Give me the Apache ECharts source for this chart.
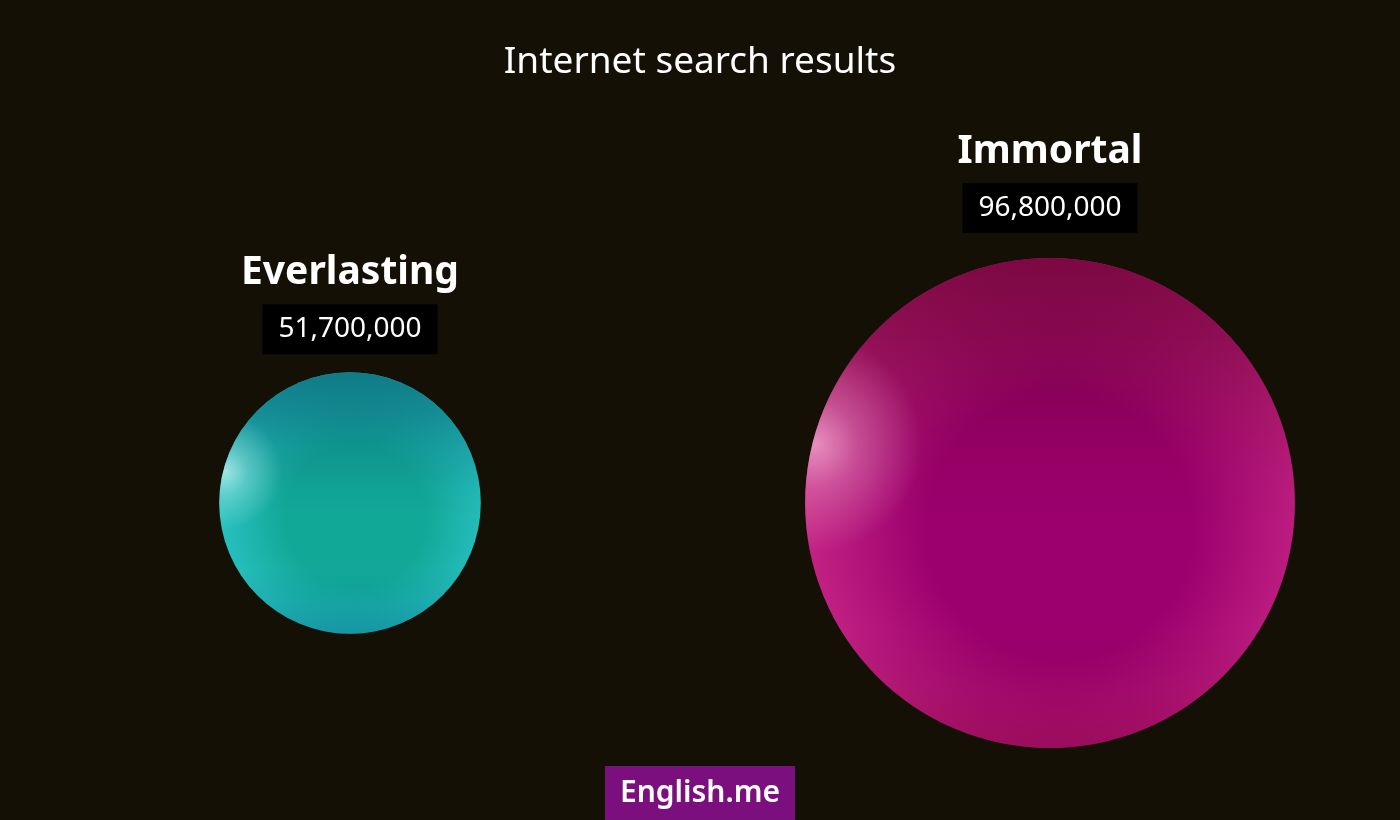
<!DOCTYPE html>
<html>
<head>
<meta charset="utf-8">
<title>Internet search results</title>
<script src="https://cdn.jsdelivr.net/npm/echarts@6/dist/echarts.min.js"></script>
<style>
    html, body { margin: 0; padding: 0; background: #151005; }
    #chart { width: 1400px; height: 820px; }
</style>
</head>
<body>
<div id="chart"></div>
<script>
var words = ['Everlasting', 'Immortal'];
var results = [51700000, 96800000];
var centerColors = ['#12a898', '#9c006e'];
var edgeColors = ['#2fc8cc', '#d02e8a'];
var topColors = ['rgba(8,105,120,', 'rgba(105,0,50,'];
var bottomColors = ['rgba(10,115,150,', 'rgba(125,0,60,'];
var glowColors = ['rgba(200,248,244,', 'rgba(248,180,215,'];

// diameter grows linearly with the number of results
var pxPerMillion = 5.06;

var chart = echarts.init(document.getElementById('chart'));

var base = [], shade = [], glow = [];
for(var i=0; i<words.length; i++){
    var v = [words[i], 0, results[i]];
    base.push({
        value: v,
        label: {distance: i ? 37 : 30},
        itemStyle: {color: {
            type: 'radial', x: 0.52, y: 0.55, r: 0.6,
            colorStops: [
                {offset: 0, color: centerColors[i]},
                {offset: 0.45, color: centerColors[i]},
                {offset: 1, color: edgeColors[i]}
            ]
        }}
    });
    shade.push({
        value: v,
        itemStyle: {color: {
            type: 'linear', x: 0, y: 0, x2: 0, y2: 1,
            colorStops: [
                {offset: 0, color: topColors[i] + '0.8)'},
                {offset: 0.15, color: topColors[i] + '0.6)'},
                {offset: 0.3, color: topColors[i] + '0.3)'},
                {offset: 0.45, color: topColors[i] + '0.08)'},
                {offset: 0.55, color: topColors[i] + '0)'},
                {offset: 0.75, color: bottomColors[i] + '0)'},
                {offset: 0.88, color: bottomColors[i] + '0.18)'},
                {offset: 1, color: bottomColors[i] + '0.5)'}
            ]
        }}
    });
    glow.push({
        value: v,
        itemStyle: {color: {
            type: 'radial', x: 0.02, y: 0.38, r: 0.22,
            colorStops: [
                {offset: 0, color: glowColors[i] + '0.75)'},
                {offset: 0.4, color: glowColors[i] + '0.35)'},
                {offset: 1, color: glowColors[i] + '0)'}
            ]
        }}
    });
}

var sizeOf = function(val){
    return val[2] / 1e6 * pxPerMillion;
};

var layer = function(data){
    return {
        type: 'scatter',
        symbol: 'circle',
        symbolSize: sizeOf,
        data: data,
        silent: true,
        itemStyle: {opacity: 1},
        label: {show: false}
    };
};

var labelled = layer(base);
labelled.label = {
    show: true,
    position: 'top',
    opacity: 1,
    formatter: function(p){
        return '{name|' + p.value[0] + '}\n{val|' + p.value[2].toLocaleString('en-US') + '}';
    },
    rich: {
        name: {color: '#ffffff', fontSize: 39, fontWeight: 'bold', fontFamily: 'Noto Sans', lineHeight: 86, align: 'center'},
        val: {color: '#ffffff', fontSize: 28, fontFamily: 'Noto Sans', backgroundColor: '#000000', padding: [11, 16, 11, 16], lineHeight: 26, align: 'center'}
    }
};

chart.setOption({
    backgroundColor: '#151005',
    textStyle: {fontFamily: 'Noto Sans'},
    title: {
        text: 'Internet search results',
        left: 'center',
        top: 39,
        textStyle: {color: '#ffffff', fontSize: 37, fontWeight: 'normal', fontFamily: 'Noto Sans'}
    },
    grid: {left: 0, right: 0, top: 258, height: 490},
    xAxis: {
        type: 'category',
        data: words,
        boundaryGap: true,
        show: false
    },
    yAxis: {
        type: 'value',
        min: -1,
        max: 1,
        show: false
    },
    series: [labelled, layer(shade), layer(glow)],
    graphic: [{
        type: 'group',
        left: 'center',
        bottom: 0,
        children: [{
            type: 'rect',
            shape: {x: 0, y: 0, width: 190, height: 54},
            style: {fill: '#7b0f7e'}
        }, {
            type: 'text',
            x: 95,
            y: 27,
            style: {
                text: 'English.me',
                fill: '#ffffff',
                font: '600 30px "Noto Sans"',
                align: 'center',
                verticalAlign: 'middle'
            }
        }]
    }]
});
</script>
</body>
</html>
